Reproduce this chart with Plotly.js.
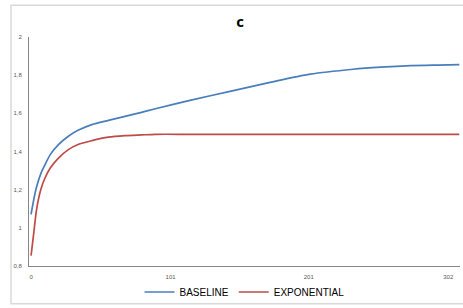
<!DOCTYPE html>
<html>
<head>
<meta charset="utf-8">
<script src="https://cdn.plot.ly/plotly-3.0.1.min.js"></script>
<style>
html,body{margin:0;padding:0;background:#fff;}
#chart{width:463px;height:308px;}
</style>
</head>
<body>
<div id="chart"></div>
<script>
// Sample positions along the x axis
const xIndex = [0, 2, 4, 7, 10, 14, 20, 27, 34, 44, 56, 68, 80, 90, 115, 144, 173, 202, 233, 253, 275, 295, 310];
const baselineValues = [1.071, 1.15, 1.215, 1.283, 1.33, 1.385, 1.437, 1.48, 1.511, 1.541, 1.563, 1.584, 1.605, 1.624, 1.668, 1.715, 1.762, 1.805, 1.831, 1.842, 1.85, 1.853, 1.855];
const exponentialValues = [0.854, 0.976, 1.097, 1.2, 1.26, 1.315, 1.367, 1.41, 1.437, 1.457, 1.475, 1.483, 1.487, 1.49, 1.49, 1.49, 1.49, 1.49, 1.49, 1.49, 1.49, 1.49, 1.49];
const xTickVals = [0, 101, 201, 302];
const xTickText = ['0', '101', '201', '302'];
const yTickVals = [0.8, 1, 1.2, 1.4, 1.6, 1.8, 2];
const seriesNames = ['BASELINE', 'EXPONENTIAL'];
const chartTitle = 'c';

const traces = [
  {x: xIndex, y: baselineValues, name: seriesNames[0], type: 'scatter', mode: 'lines',
   line: {color: '#4a7ebb', width: 1.7, shape: 'spline', smoothing: 0.8}},
  {x: xIndex, y: exponentialValues, name: seriesNames[1], type: 'scatter', mode: 'lines',
   line: {color: '#be4b48', width: 1.7, shape: 'spline', smoothing: 0.8}}
];

const layout = {
  width: 463, height: 308,
  margin: {l: 29, r: 3, t: 37, b: 41, pad: 0},
  paper_bgcolor: '#ffffff', plot_bgcolor: '#ffffff',
  separators: ',.',
  font: {family: 'Liberation Sans, Arial, sans-serif', color: '#595959', size: 6},
  title: {text: '<b>' + chartTitle + '</b>', x: 0.49, xref: 'paper', xanchor: 'center',
          y: 1 - 22/308, yref: 'container', yanchor: 'middle',
          font: {family: 'Open Sans, Liberation Sans, sans-serif', size: 15, color: '#000000'}},
  xaxis: {range: [-1.5, 310.5], tickvals: xTickVals, ticktext: xTickText,
          showgrid: false, zeroline: false, showline: true, linecolor: '#868686', linewidth: 1,
          ticks: '', ticklabelstandoff: 5, tickfont: {size: 6, color: '#595959'}},
  yaxis: {range: [0.8, 2], tickvals: yTickVals, showgrid: false, zeroline: false,
          showline: true, linecolor: '#868686', linewidth: 1, ticks: '',
          ticklabelstandoff: 5, tickfont: {size: 6, color: '#595959'}},
  showlegend: true,
  legend: {orientation: 'h', x: 0.5, xanchor: 'center', y: (267-292)/230, yanchor: 'middle',
           font: {family: 'Liberation Sans, Arial, sans-serif', size: 10, color: '#000000'},
           itemwidth: 30, tracegroupgap: 0, bgcolor: 'rgba(0,0,0,0)'},
  shapes: [{type: 'rect', xref: 'paper', yref: 'paper',
            x0: (11-29)/431, x1: (466-29)/431, y0: (267-305)/230, y1: (267-5)/230,
            line: {color: '#d9d9d9', width: 1.5}, fillcolor: 'rgba(0,0,0,0)', layer: 'below'}]
};

Plotly.newPlot('chart', traces, layout, {displayModeBar: false, staticPlot: true});
</script>
</body>
</html>
